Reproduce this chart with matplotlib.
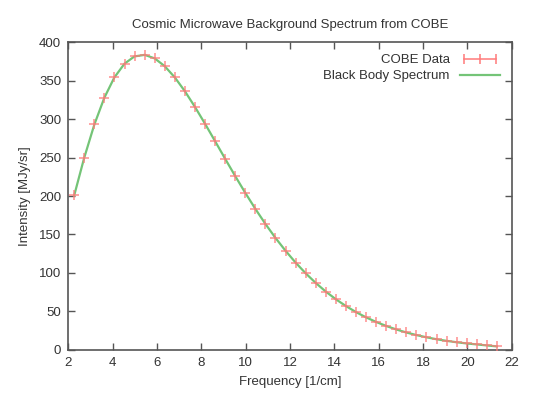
import matplotlib
matplotlib.use("Agg")
import matplotlib.pyplot as plt
from matplotlib.lines import Line2D
from matplotlib.legend_handler import HandlerLine2D

# COBE FIRAS spectrum, frequency in 1/cm, intensity in MJy/sr
frequency = [2.27, 2.72, 3.18, 3.63, 4.08, 4.54, 4.99, 5.45, 5.90, 6.35,
             6.81, 7.26, 7.71, 8.17, 8.62, 9.08, 9.53, 9.98, 10.44, 10.89,
             11.34, 11.80, 12.25, 12.71, 13.16, 13.61, 14.07, 14.52, 14.97, 15.43,
             15.88, 16.34, 16.79, 17.24, 17.70, 18.15, 18.61, 19.06, 19.51, 19.97,
             20.42, 20.87, 21.33]
intensity = [200.723, 249.508, 293.024, 327.770, 354.081, 372.079, 381.493, 383.478, 378.901, 368.833,
             354.063, 336.278, 316.076, 293.924, 271.432, 248.239, 225.940, 204.327, 183.262, 163.830,
             145.750, 128.835, 113.568, 99.451, 87.036, 75.876, 65.766, 57.008, 49.223, 42.267,
             36.352, 31.062, 26.580, 22.644, 19.255, 16.391, 13.811, 11.716, 9.921, 8.364,
             7.087, 5.801, 4.523]

x_ticks = [2, 4, 6, 8, 10, 12, 14, 16, 18, 20, 22]
y_ticks = [0, 50, 100, 150, 200, 250, 300, 350, 400]

plt.rcParams['font.family'] = ['Liberation Sans', 'DejaVu Sans']
text_col = '#333333'
axis_col = '#555555'
red = '#ff7a7a'
green = '#74c477'

fig = plt.figure(figsize=(5.37, 3.94), dpi=100)
ax = fig.add_axes([0.127, 0.112, 0.826, 0.781])

ax.plot(frequency, intensity, color=green, lw=1.6, zorder=2)
ax.plot(frequency, intensity, ls='none', marker='+', ms=6.5, mew=1.1,
        color=red, alpha=0.85, zorder=3)

ax.set_xlim(2, 22)
ax.set_ylim(0, 400)
ax.set_xticks(x_ticks)
ax.set_yticks(y_ticks)
ax.tick_params(direction='in', top=True, right=True, length=5, width=1,
               colors=axis_col, labelcolor=text_col, labelsize=9.5, pad=5)
for s in ax.spines.values():
    s.set_color(axis_col)
    s.set_linewidth(1.2)

ax.set_title('Cosmic Microwave Background Spectrum from COBE',
             fontsize=9.5, color=text_col, pad=10)
ax.set_xlabel('Frequency [1/cm]', fontsize=9.5, color=text_col, labelpad=5)
ax.set_ylabel('Intensity [MJy/sr]', fontsize=9.5, color=text_col, labelpad=6)

data_proxy = Line2D([], [], color=red, lw=1.1, marker='|', ms=7, mew=1.1)
line_proxy = Line2D([], [], color=green, lw=1.6)
leg = ax.legend([data_proxy, line_proxy], ['COBE Data', 'Black Body Spectrum'],
                handler_map={data_proxy: HandlerLine2D(numpoints=3)},
                loc='upper right', frameon=False, fontsize=9.5,
                markerfirst=False, handlelength=3.0, handletextpad=0.8,
                labelspacing=0.3, borderaxespad=0.5)
for t in leg.get_texts():
    t.set_color(text_col)

fig.savefig('out.png', dpi=100)
